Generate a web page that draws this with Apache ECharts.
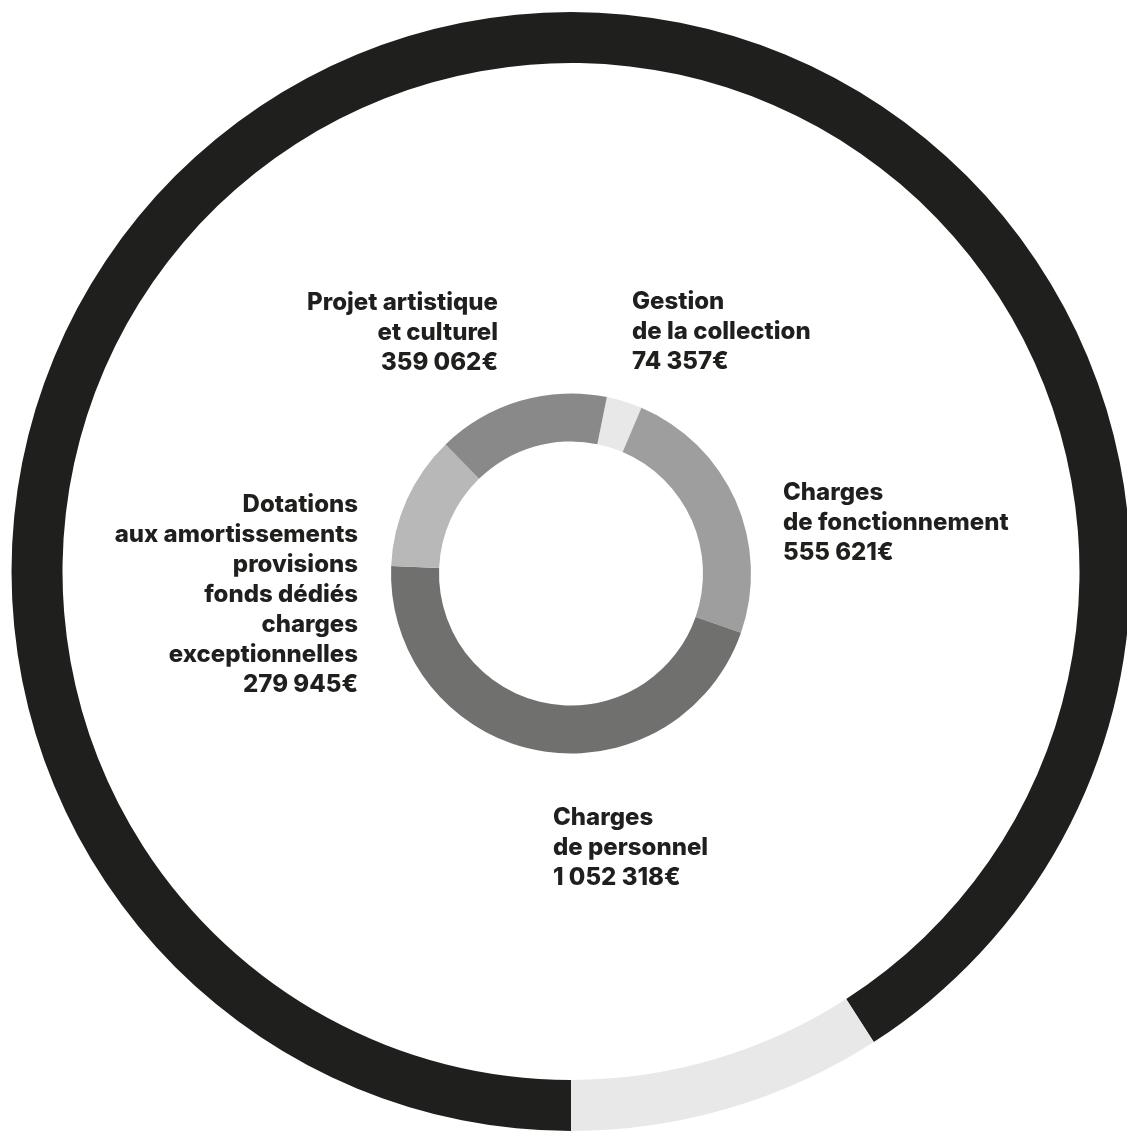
<!DOCTYPE html>
<html>
<head>
<meta charset="utf-8">
<script src="https://cdn.jsdelivr.net/npm/echarts@6/dist/echarts.min.js"></script>
<style>
html,body{margin:0;padding:0;background:#fff;}
#chart{width:1127px;height:1133px;}
</style>
</head>
<body>
<div id="chart"></div>
<script>
// Inner donut data (clockwise from top)
var categories = [
  'Gestion\nde la collection',
  'Charges\nde fonctionnement',
  'Charges\nde personnel',
  'Dotations\naux amortissements\nprovisions\nfonds dédiés\ncharges\nexceptionnelles',
  'Projet artistique\net culturel'
];
var values = [74357, 555621, 1052318, 279945, 359062];
var innerColors = ['#e8e8e8', '#9e9e9e', '#70706e', '#b8b8b8', '#898989'];

// Outer ring (estimated shares)
var outerNames = ['Part principale', 'Part secondaire'];
var outerValues = [90.9, 9.1];
var outerColors = ['#1f1f1d', '#e8e8e8'];

// Label anchor positions (layout only)
var labelPos = [
  {x: 632, y: 287, align: 'left'},
  {x: 783, y: 478, align: 'left'},
  {x: 553, y: 803, align: 'left'},
  {x: 358, y: 490, align: 'right'},
  {x: 498, y: 288, align: 'right'}
];

function fmt(v){
  return String(v).replace(/\B(?=(\d{3})+(?!\d))/g, ' ') + '€';
}

var chart = echarts.init(document.getElementById('chart'), null, {renderer: 'canvas'});
chart.setOption({
  animation: false,
  backgroundColor: '#ffffff',
  series: [
    {
      type: 'pie',
      silent: true,
      center: [571, 571.5],
      radius: [508.5, 559.5],
      startAngle: 270,
      clockwise: true,
      label: {show: false},
      labelLine: {show: false},
      emphasis: {disabled: true},
      data: outerValues.map(function(v, i){
        return {name: outerNames[i], value: v, itemStyle: {color: outerColors[i]}};
      })
    },
    {
      type: 'pie',
      silent: true,
      center: [571, 573.5],
      radius: [132, 180],
      startAngle: 78.5,
      clockwise: true,
      avoidLabelOverlap: false,
      emphasis: {disabled: true},
      label: {
        show: true,
        position: 'outside',
        fontFamily: 'Inter',
        fontWeight: 800,
        fontSize: 24,
        lineHeight: 30,
        color: '#1f1f1d',
        formatter: function(p){ return p.name + '\n' + fmt(p.value); }
      },
      labelLine: {show: false},
      labelLayout: function(params){
        var p = labelPos[params.dataIndex];
        return {x: p.x, y: p.y, align: p.align, verticalAlign: 'top'};
      },
      data: values.map(function(v, i){
        return {name: categories[i], value: v, itemStyle: {color: innerColors[i]}};
      })
    }
  ]
});
</script>
</body>
</html>
